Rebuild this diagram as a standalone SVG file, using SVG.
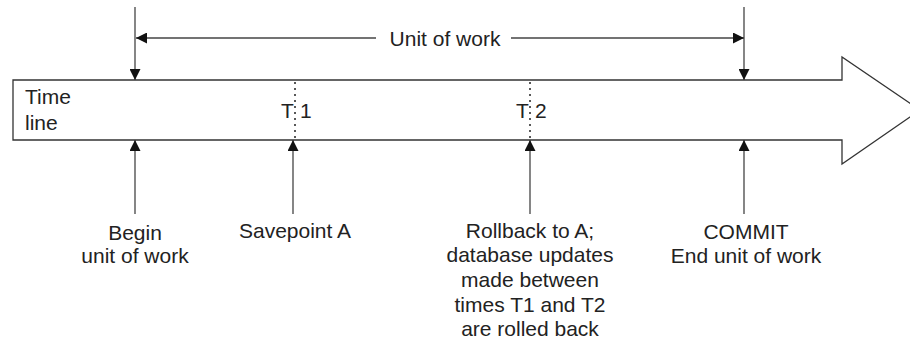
<svg xmlns="http://www.w3.org/2000/svg" width="910" height="343" viewBox="0 0 910 343">
<defs>
<style>
text{font-family:"Liberation Sans",Arial,sans-serif;font-size:21px;fill:#222}
.c{text-anchor:middle}
.ln{stroke:#444;stroke-width:1.3;fill:none}
.dot{stroke:#222;stroke-width:1.5;stroke-dasharray:2 4;fill:none}
</style>
<marker id="ah" viewBox="0 0 10 10" refX="10" refY="5" markerWidth="11" markerHeight="11" markerUnits="userSpaceOnUse" orient="auto">
<path d="M0,0 L10,5 L0,10 Z" fill="#111"/>
</marker>
</defs>
<rect width="910" height="343" fill="#fff"/>
<g id="timeline">
<polygon points="13,80 842,80 842,57 920,110 842,164 842,140 13,140" fill="#fff" stroke="#333" stroke-width="1.3"/>
<text x="25" y="104">Time</text>
<text x="25" y="130">line</text>
</g>
<g id="t1">
<line class="dot" x1="295" y1="82" x2="295" y2="140"/>
<text x="281" y="118">T</text>
<text x="300" y="118">1</text>
</g>
<g id="t2">
<line class="dot" x1="530" y1="82" x2="530" y2="140"/>
<text x="516" y="118">T</text>
<text x="535" y="118">2</text>
</g>
<g id="unit-of-work">
<text class="c" x="445" y="46">Unit of work</text>
</g>
<g id="begin">
<text class="c" x="135" y="240">Begin</text>
<text class="c" x="135" y="263">unit of work</text>
</g>
<g id="savepoint">
<text class="c" x="295" y="238">Savepoint A</text>
</g>
<g id="rollback">
<text class="c" x="530" y="238">Rollback to A;</text>
<text class="c" x="530" y="262">database updates</text>
<text class="c" x="530" y="287">made between</text>
<text class="c" x="530" y="312">times T1 and T2</text>
<text class="c" x="530" y="336">are rolled back</text>
</g>
<g id="commit">
<text class="c" x="746" y="239">COMMIT</text>
<text class="c" x="746" y="263">End unit of work</text>
</g>
<g id="connectors">
<line class="ln" x1="135" y1="7" x2="135" y2="80" marker-end="url(#ah)"/>
<line class="ln" x1="744" y1="7" x2="744" y2="80" marker-end="url(#ah)"/>
<line class="ln" x1="376" y1="38" x2="136" y2="38" marker-end="url(#ah)"/>
<line class="ln" x1="511" y1="38" x2="744" y2="38" marker-end="url(#ah)"/>
<line class="ln" x1="135" y1="214" x2="135" y2="140" marker-end="url(#ah)"/>
<line class="ln" x1="293" y1="214" x2="293" y2="140" marker-end="url(#ah)"/>
<line class="ln" x1="530" y1="214" x2="530" y2="140" marker-end="url(#ah)"/>
<line class="ln" x1="744" y1="214" x2="744" y2="140" marker-end="url(#ah)"/>
</g>
</svg>
